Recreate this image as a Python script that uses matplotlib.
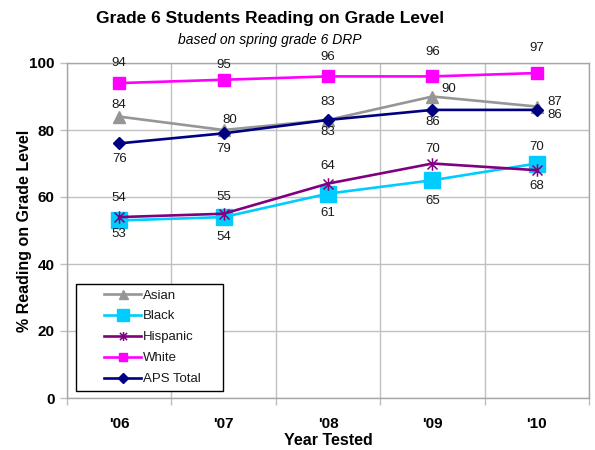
import matplotlib
matplotlib.use("Agg")
import matplotlib.pyplot as plt
from matplotlib.path import Path
from matplotlib.patches import Rectangle
import numpy as np

plt.rcParams['font.family'] = ['Liberation Sans', 'DejaVu Sans']

years = ["'06", "'07", "'08", "'09", "'10"]
asian = [84, 80, 83, 90, 87]
black = [53, 54, 61, 65, 70]
hispanic = [54, 55, 64, 70, 68]
white = [94, 95, 96, 96, 97]
aps_total = [76, 79, 83, 86, 86]

# asterisk marker: vertical bar plus an X
asterisk = Path(
    [(0, -1), (0, 1), (-0.8, -0.8), (0.8, 0.8), (-0.8, 0.8), (0.8, -0.8)],
    [Path.MOVETO, Path.LINETO, Path.MOVETO, Path.LINETO, Path.MOVETO, Path.LINETO],
)

series = [
    ("Asian", asian, dict(color="#969696", marker="^", markersize=9,
                          markerfacecolor="#969696", markeredgecolor="#969696")),
    ("Black", black, dict(color="#00CCFF", marker="s", markersize=11.5,
                          markerfacecolor="#00CCFF", markeredgecolor="#00CCFF")),
    ("Hispanic", hispanic, dict(color="#800080", marker=asterisk, markersize=9,
                                markeredgewidth=1.1, markeredgecolor="#800080")),
    ("White", white, dict(color="#FF00FF", marker="s", markersize=8.5,
                          markerfacecolor="#FF00FF", markeredgecolor="#FF00FF")),
    ("APS Total", aps_total, dict(color="#000080", marker="D", markersize=6.5,
                                  markerfacecolor="#000080", markeredgecolor="#000080")),
]

# value label offsets in pixels (dx, dy) per series and point
label_offsets = {
    "Asian": [(0, 12), (6, 10), (0, 18), (15, 7), (17, 5)],
    "Black": [(0, -14), (0, -20), (0, -19), (0, -21), (0, 17)],
    "Hispanic": [(0, 19), (0, 17), (0, 18), (0, 15), (0, -16)],
    "White": [(0, 20), (0, 15), (0, 19), (0, 24), (0, 25)],
    "APS Total": [(0, -16), (0, -16), (0, -12), (0, -12), (17, -5)],
}

fig = plt.figure(figsize=(5.95, 4.5), dpi=100)
ax = fig.add_axes([67 / 595, 1 - 398 / 450, (589 - 67) / 595, (398 - 63) / 450])

x = np.arange(len(years))
grid_c = "#c0c0c0"

for name, vals, style in series:
    ax.plot(x, vals, linewidth=1.9, label=name, zorder=3, **style)

for name, vals, _ in series:
    for xi, v, (dx, dy) in zip(x, vals, label_offsets[name]):
        ha = "left" if dx > 10 else "center"
        ax.annotate(f"{v:.0f}", (xi, v), xytext=(dx - (6 if ha == "left" else 0), dy),
                    textcoords="offset pixels", ha=ha, va="center",
                    fontsize=9.5, color="#1a1a1a", zorder=5, annotation_clip=False)

ax.set_xlim(-0.5, 4.5)
ax.set_ylim(0, 100)
ax.set_yticks(np.arange(0, 101, 20))
ax.set_xticks(x)
ax.set_xticklabels(years)
ax.set_xticks(np.arange(-0.5, 4.6, 0.5), minor=True)
ax.grid(True, which="major", axis="y", color=grid_c, linewidth=1)
ax.grid(True, which="minor", axis="x", color=grid_c, linewidth=1)
ax.set_axisbelow(True)

for lbl in ax.get_xticklabels() + ax.get_yticklabels():
    lbl.set_fontweight("bold")
    lbl.set_fontsize(11)
ax.tick_params(axis="x", which="major", length=0, pad=14)
ax.tick_params(axis="x", which="minor", length=5, color=grid_c, width=1)
ax.tick_params(axis="y", length=5, color=grid_c, width=1, pad=4)

for sp in ax.spines.values():
    sp.set_color("#a6a6a6")
    sp.set_linewidth(1)

ax.set_xlabel("Year Tested", fontsize=11.5, fontweight="bold", labelpad=1)
ax.set_ylabel("% Reading on Grade Level", fontsize=11.5, fontweight="bold", labelpad=-2)

fig.text(270 / 595, 1 - 19 / 450, "Grade 6 Students Reading on Grade Level",
         ha="center", va="center", fontsize=12.5, fontweight="bold")
fig.text(270 / 595, 1 - 40 / 450, "based on spring grade 6 DRP",
         ha="center", va="center", fontsize=10, style="italic")

# legend frame, drawn beneath the legend entries
ax.add_patch(Rectangle((76 / 595, 1 - 391 / 450), (223 - 76) / 595, (391 - 284) / 450,
                       transform=fig.transFigure, facecolor="white",
                       edgecolor="black", linewidth=1, zorder=4, clip_on=False))

leg = ax.legend(loc="upper left", bbox_to_anchor=(101 / 595, 1 - 286 / 450),
                bbox_transform=fig.transFigure, frameon=False,
                fontsize=9.5, handlelength=2.8, labelspacing=0.66,
                borderpad=0.25, handletextpad=0.1, borderaxespad=0,
                markerscale=0.72)
leg.set_zorder(6)
for t in leg.get_texts():
    t.set_color("#1a1a1a")

fig.savefig("out.png", dpi=100)
